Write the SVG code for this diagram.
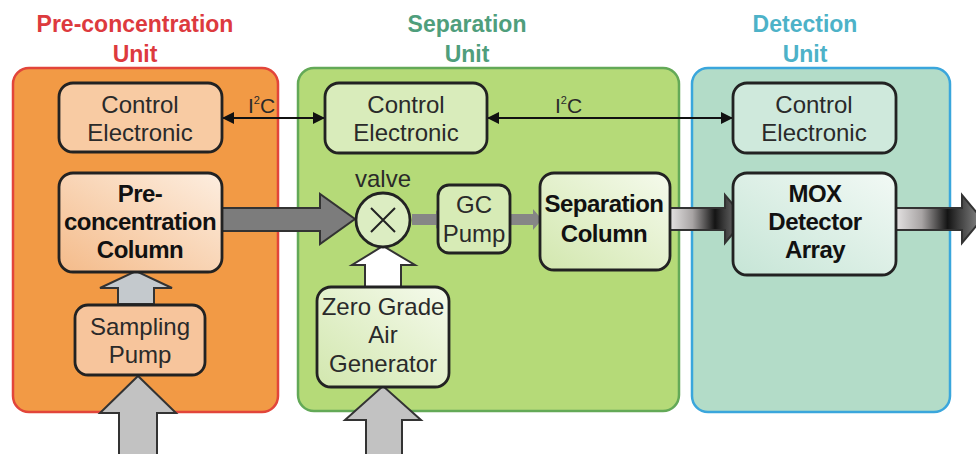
<svg xmlns="http://www.w3.org/2000/svg" width="976" height="454" viewBox="0 0 976 454">
<style>
.title{font-family:"Liberation Sans",Arial,sans-serif;font-weight:bold;font-size:23px;text-anchor:middle}
.t{font-family:"Liberation Sans",Arial,sans-serif;font-size:24px;text-anchor:middle;fill:#2a2a2a}
.tb{font-family:"Liberation Sans",Arial,sans-serif;font-size:24px;font-weight:bold;text-anchor:middle;fill:#111;letter-spacing:-0.5px}
.box{stroke:#222;stroke-width:2.8}
.blk{stroke:#333;stroke-width:2}
</style>
<defs>
<marker id="ah" viewBox="0 0 10 10" refX="10" refY="5" markerWidth="6" markerHeight="6" orient="auto-start-reverse" markerUnits="strokeWidth">
<path d="M0,0 L10,5 L0,10 Z" fill="#111"/>
</marker>
<linearGradient id="gOrange" x1="0" y1="1" x2="1" y2="0">
<stop offset="0" stop-color="#f4bb8a"/><stop offset="1" stop-color="#fdeee0"/>
</linearGradient>
<linearGradient id="gGreen" x1="0" y1="1" x2="1" y2="0">
<stop offset="0" stop-color="#d2e7ae"/><stop offset="1" stop-color="#f5faec"/>
</linearGradient>
<linearGradient id="gBlue" x1="0" y1="1" x2="1" y2="0">
<stop offset="0" stop-color="#c6e5d6"/><stop offset="1" stop-color="#f2f9f5"/>
</linearGradient>
<linearGradient id="gArrow" x1="0" y1="0" x2="1" y2="0">
<stop offset="0" stop-color="#e4e2e2"/><stop offset="0.3" stop-color="#a8a4a4"/><stop offset="0.6" stop-color="#141414"/><stop offset="0.72" stop-color="#3a3a3a"/><stop offset="1" stop-color="#8a8a8a"/>
</linearGradient>
</defs>
<rect width="976" height="454" fill="#ffffff"/>

<g id="preconcentration-unit">
<rect x="13" y="68" width="265" height="344" rx="16" fill="#f29a45" stroke="#e2453a" stroke-width="2.5"/>
<text class="title" x="135" y="32" fill="#dd3a3e">Pre-concentration</text>
<text class="title" x="135" y="62" fill="#dd3a3e">Unit</text>
</g>
<g id="separation-unit">
<rect x="298" y="68" width="381" height="343" rx="16" fill="#b5da78" stroke="#63a957" stroke-width="2.5"/>
<text class="title" x="467" y="32" fill="#4f9e7c">Separation</text>
<text class="title" x="467" y="62" fill="#4f9e7c">Unit</text>
</g>
<g id="detection-unit">
<rect x="692" y="68" width="258" height="344" rx="16" fill="#b3dcc8" stroke="#3aa6dc" stroke-width="2.5"/>
<text class="title" x="805" y="32" fill="#4db2c8">Detection</text>
<text class="title" x="805" y="62" fill="#4db2c8">Unit</text>
</g>

<g id="connectors">
<line x1="222" y1="118" x2="325" y2="118" stroke="#111" stroke-width="2" marker-start="url(#ah)" marker-end="url(#ah)"/>
<text class="t" x="248" y="113" style="text-anchor:start;font-size:21px">I<tspan font-size="11" dy="-9">2</tspan><tspan dy="9">C</tspan></text>
<line x1="487" y1="118" x2="733" y2="118" stroke="#111" stroke-width="2" marker-start="url(#ah)" marker-end="url(#ah)"/>
<text class="t" x="555" y="113" style="text-anchor:start;font-size:21px">I<tspan font-size="11" dy="-9">2</tspan><tspan dy="9">C</tspan></text>
<polygon class="blk" points="222,208 320,208 320,194 355,219 320,244 320,231 222,231" fill="#7c7c7c"/>
<polygon points="412,214 436,214 436,210 442,219.5 436,229 436,225 412,225" fill="#868686"/>
<polygon points="510,214 533,214 533,209 542,219.5 533,230 533,225 510,225" fill="#868686"/>
<polygon class="blk" points="670,208 725,208 725,195 745,219 725,243 725,230 670,230" fill="url(#gArrow)"/>
<polygon class="blk" points="896,208 962,208 962,195 982,219 962,243 962,230 896,230" fill="url(#gArrow)"/>
<polygon class="blk" points="118,304 118,288 100,288 136,271 172,288 154,288 154,304" fill="#c4c9cd"/>
<polygon class="blk" points="119,456 119,413 100,413 138,376 176,413 157,413 157,456" fill="#c2c2c2"/>
<polygon class="blk" points="365,287 365,265 352,265 383,246 415,265 401,265 401,287" fill="#ffffff"/>
<polygon class="blk" points="366,456 366,420 345,420 383,386 421,420 402,420 402,456" fill="#c2c2c2"/>
</g>

<g id="control-electronic-1">
<rect class="box" x="59" y="83" width="163" height="69" rx="14" fill="#f8cba3"/>
<text class="t" x="140" y="113">Control</text>
<text class="t" x="140" y="141">Electronic</text>
</g>
<g id="control-electronic-2">
<rect class="box" x="325" y="83" width="162" height="70" rx="14" fill="#d9ecbb"/>
<text class="t" x="406" y="113">Control</text>
<text class="t" x="406" y="141">Electronic</text>
</g>
<g id="control-electronic-3">
<rect class="box" x="733" y="83" width="163" height="70" rx="14" fill="#cfe9dc"/>
<text class="t" x="814" y="113">Control</text>
<text class="t" x="814" y="141">Electronic</text>
</g>
<g id="preconcentration-column">
<rect class="box" x="59" y="173" width="163" height="99" rx="14" fill="url(#gOrange)"/>
<text class="tb" x="140" y="202">Pre-</text>
<text class="tb" x="140" y="230">concentration</text>
<text class="tb" x="140" y="258">Column</text>
</g>
<g id="sampling-pump">
<rect class="box" x="75" y="305" width="130" height="70" rx="13" fill="#f7c59c"/>
<text class="t" x="140" y="335">Sampling</text>
<text class="t" x="140" y="363">Pump</text>
</g>
<g id="valve">
<circle class="box" cx="383" cy="220" r="27" fill="#dcedc2"/>
<path d="M371,208 L395,232 M395,208 L371,232" stroke="#222" stroke-width="2"/>
<text class="t" x="383" y="187">valve</text>
</g>
<g id="gc-pump">
<rect class="box" x="438" y="185" width="72" height="68" rx="11" fill="#d7ebb6"/>
<text class="t" x="474" y="213">GC</text>
<text class="t" x="474" y="242">Pump</text>
</g>
<g id="separation-column">
<rect class="box" x="540" y="173" width="130" height="97" rx="14" fill="url(#gGreen)"/>
<text class="tb" x="604" y="212">Separation</text>
<text class="tb" x="604" y="242">Column</text>
</g>
<g id="zero-grade-air-generator">
<rect class="box" x="317" y="287" width="132" height="100" rx="14" fill="url(#gGreen)"/>
<text class="t" x="383" y="315">Zero Grade</text>
<text class="t" x="383" y="343">Air</text>
<text class="t" x="383" y="372">Generator</text>
</g>
<g id="mox-detector-array">
<rect class="box" x="733" y="173" width="163" height="102" rx="14" fill="url(#gBlue)"/>
<text class="tb" x="815" y="202">MOX</text>
<text class="tb" x="815" y="230">Detector</text>
<text class="tb" x="815" y="258">Array</text>
</g>
</svg>
